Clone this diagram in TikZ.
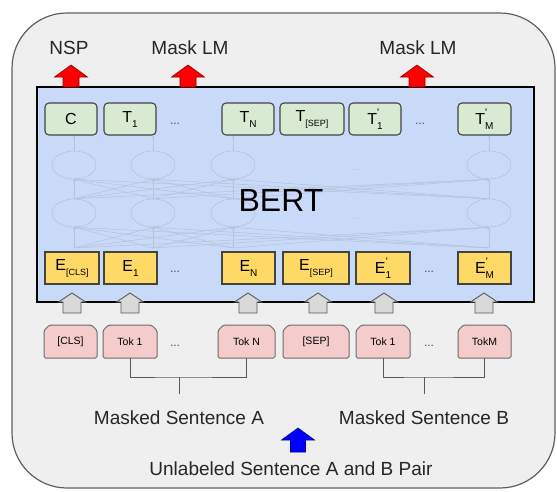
\documentclass[tikz,border=0pt]{standalone}
\usepackage{fontspec}
\setmainfont{Liberation Sans}
\usetikzlibrary{shapes.geometric,arrows.meta}

\definecolor{pagebg}{HTML}{EFEFEF}
\definecolor{frameedge}{HTML}{5F5F5F}
\definecolor{bertblue}{HTML}{C9DAF8}
\definecolor{outgreen}{HTML}{D9EAD3}
\definecolor{embyellow}{HTML}{FFD966}
\definecolor{tokpink}{HTML}{F4CCCC}
\definecolor{netedge}{HTML}{B4C2DA}
\definecolor{boxedge}{HTML}{434343}
\definecolor{arrowgray}{HTML}{D9D9D9}

% main letter with a small subscript (#2) and superscript (#3)
\newcommand\sublab[3]{#1\rlap{\raisebox{8pt}{\fontsize{11}{11}\selectfont #3}}\raisebox{-5pt}{\fontsize{10}{10}\selectfont #2}}
\newcommand\sublabs[3]{#1\rlap{\raisebox{8pt}{\fontsize{9}{9}\selectfont #3}}\raisebox{-5pt}{\fontsize{9}{9}\selectfont #2}}

\tikzset{
  outbox/.style={draw=boxedge, line width=1.1pt, fill=outgreen, rounded corners=4pt,
    minimum height=32pt, inner sep=0pt, font=\fontsize{16}{16}\selectfont},
  embbox/.style={draw=boxedge, line width=1.1pt, fill=embyellow,
    minimum height=32pt, inner sep=0pt, font=\fontsize{16}{16}\selectfont},
  tokshape/.style={draw=gray!85!black, line width=1pt, fill=tokpink, rounded corners=1.5pt},
  toklabel/.style={minimum height=33pt, inner sep=0pt, font=\fontsize{10.5}{10.5}\selectfont},
  dotsep/.style={font=\fontsize{12}{12}\selectfont, text=black!70},
  biglabel/.style={font=\fontsize{19}{19}\selectfont, text=black!85, inner sep=0pt},
  netnode/.style={ellipse, draw=netedge, line width=0.6pt, minimum width=44pt,
    minimum height=28pt, inner sep=0pt},
  netline/.style={draw=netedge, line width=0.5pt, -{Stealth[length=2.5pt,width=2.5pt]}},
  bracket/.style={draw=black!65, line width=1pt},
  pics/uparrow/.style n args={4}{code={
    % #1 head half width, #2 shaft half width, #3 total length, #4 head length
    \path[pic actions] (0,0) -- (#1,#4) -- (#2,#4) -- (#2,#3) -- (-#2,#3)
      -- (-#2,#4) -- (-#1,#4) -- cycle;
  }},
}

\begin{document}
\begin{tikzpicture}[x=1pt, y=-1pt]
\useasboundingbox (0,0) rectangle (557,491);

% outer frame
\draw[fill=pagebg, draw=frameedge, line width=1.2pt, rounded corners=55pt]
  (12,13) rectangle (555,488);

% BERT body
\draw[fill=bertblue, line width=2.5pt] (37,87) rectangle (534,302);

% faint fully connected layers inside the encoder
\foreach \c/\x in {1/74,2/153,3/233,4/489} {
  \node[netnode] (up\c) at (\x,165) {};
  \node[netnode] (lo\c) at (\x,213) {};
  \coordinate (in\c) at (\x,248);
}
\foreach \i in {1,...,4} {
  \foreach \j in {1,...,4} {
    \draw[netline] (lo\i.north) -- (up\j.south);
    \draw[netline] (in\i) -- (lo\j.south);
  }
}
\node[font=\fontsize{10}{10}\selectfont, text=netedge] (ndotsA) at (357,170) {...};
\node[font=\fontsize{10}{10}\selectfont, text=netedge] (ndotsB) at (357,219) {...};

\node[font=\fontsize{32}{32}\selectfont] (bert) at (281,200) {BERT};

% output row
\node[outbox, minimum width=52pt] (tC) at (71,119) {C};
\node[outbox, minimum width=52pt] (tA1) at (130,119) {\sublab{T}{1}{}};
\node[dotsep] (tdA) at (175,124) {...};
\node[outbox, minimum width=52pt] (tAN) at (248,119) {\sublab{T}{N}{}};
\node[outbox, minimum width=64pt] (tSEP) at (312,119) {\sublabs{T}{[SEP]}{}};
\node[outbox, minimum width=52pt] (tB1) at (375,119) {\sublab{T}{1}{\textquotesingle}};
\node[dotsep] (tdB) at (420,124) {...};
\node[outbox, minimum width=53pt] (tBM) at (484.5,119) {\sublab{T}{M}{\textquotesingle}};

\foreach \c/\t in {1/tC,2/tA1,3/tAN,4/tBM} {
  \draw[netline] (up\c.north) -- (up\c.north |- \t.south);
}

% embedding row
\node[embbox, minimum width=54pt] (eCLS) at (72,268) {\sublabs{E}{[CLS]}{}};
\node[embbox, minimum width=53pt] (eA1) at (130.5,268) {\sublab{E}{1}{}};
\node[dotsep] (edA) at (175,272) {...};
\node[embbox, minimum width=53pt] (eAN) at (248.5,268) {\sublab{E}{N}{}};
\node[embbox, minimum width=66pt] (eSEP) at (316,268) {\sublabs{E}{[SEP]}{}};
\node[embbox, minimum width=54pt] (eB1) at (383,268) {\sublab{E}{1}{’}};
\node[dotsep] (edB) at (429,272) {...};
\node[embbox, minimum width=53pt] (eBM) at (484.5,268) {\sublab{E}{M}{’}};

% input tokens: boxes with cut top corners
\foreach \n/\x/\w/\t in {kCLS/70.5/53/{[CLS]}, kA1/130/54/{Tok 1}, kAN/246.5/57/{Tok N},
                         kSEP/316/66/{[SEP]}, kB1/383/54/{Tok 1}, kBM/484.5/53/{TokM}} {
  \filldraw[tokshape] ({\x-\w/2},358) -- ({\x-\w/2},330.5) -- ({\x-\w/2+5.5},325)
    -- ({\x+\w/2-5.5},325) -- ({\x+\w/2},330.5) -- ({\x+\w/2},358) -- cycle;
  \node[toklabel, minimum width=\w pt] (\n) at (\x,341.5) {\t};
}
\node[dotsep] (kdA) at (175,346) {...};
\node[dotsep] (kdB) at (429,346) {...};

% gray arrows from tokens into embeddings
\foreach \x in {72,130,248,318,384,484} {
  \pic[fill=arrowgray, draw=black!65, line width=0.9pt] at (\x,293) {uparrow={13.5}{9}{20}{9}};
}

% red output arrows and their labels
\foreach \x in {71,188,417} {
  \pic[fill=red, draw=red!55!black, line width=0.6pt] at (\x,65) {uparrow={16.5}{8}{22}{12}};
}
\node[biglabel] (nsp) at (69,48) {NSP};
\node[biglabel] (mlmA) at (190,48) {Mask LM};
\node[biglabel] (mlmB) at (418,48) {Mask LM};

% sentence brackets
\coordinate (brA) at (179,377);
\coordinate (stemA) at (179,394);
\coordinate (brB) at (424,377);
\coordinate (stemB) at (424,394);
\draw[bracket] (kA1.south) |- (brA) -| (kAN.south);
\draw[bracket] (brA) -- (stemA);
\draw[bracket] (kB1.south) |- (brB) -| (kBM.south);
\draw[bracket] (brB) -- (stemB);

\node[biglabel] (sentA) at (179,418) {Masked Sentence A};
\node[biglabel] (sentB) at (424,418) {Masked Sentence B};

% input pair
\pic[fill=blue, draw=blue!60!black, line width=0.6pt] at (298,428) {uparrow={16.5}{7.5}{24}{12}};
\node[biglabel] (pair) at (291,469) {Unlabeled Sentence A and B Pair};
\end{tikzpicture}
\end{document}
